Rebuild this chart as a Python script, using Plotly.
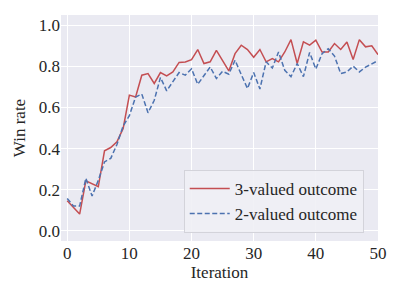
import plotly.graph_objects as go

iterations = list(range(51))

three_valued = [0.146, 0.114, 0.081, 0.243, 0.230, 0.214, 0.389, 0.405, 0.433, 0.498,
                0.660, 0.651, 0.757, 0.765, 0.717, 0.770, 0.754, 0.773, 0.819, 0.821,
                0.833, 0.882, 0.814, 0.822, 0.878, 0.825, 0.778, 0.862, 0.903, 0.882,
                0.844, 0.882, 0.822, 0.838, 0.822, 0.870, 0.930, 0.814, 0.919, 0.903,
                0.928, 0.870, 0.870, 0.911, 0.882, 0.919, 0.833, 0.930, 0.895, 0.900,
                0.857]

two_valued = [0.157, 0.120, 0.120, 0.255, 0.169, 0.245, 0.335, 0.352, 0.420, 0.510,
              0.560, 0.651, 0.665, 0.574, 0.635, 0.746, 0.681, 0.724, 0.770, 0.757,
              0.788, 0.713, 0.757, 0.797, 0.741, 0.776, 0.762, 0.830, 0.760, 0.692,
              0.770, 0.690, 0.822, 0.792, 0.870, 0.781, 0.750, 0.814, 0.750, 0.868,
              0.787, 0.862, 0.886, 0.850, 0.765, 0.773, 0.801, 0.773, 0.796, 0.812,
              0.828]

x_ticks = [0, 10, 20, 30, 40, 50]
y_ticks = [0.0, 0.2, 0.4, 0.6, 0.8, 1.0]

font_family = "Liberation Serif"
text_color = "#262626"

fig = go.Figure()
fig.add_trace(go.Scatter(x=iterations, y=three_valued, mode="lines",
                         name="3-valued outcome",
                         line=dict(color="#C44E52", width=1.5)))
fig.add_trace(go.Scatter(x=iterations, y=two_valued, mode="lines",
                         name="2-valued outcome",
                         line=dict(color="#4C72B0", width=1.5, dash="5px,2.5px")))

fig.update_layout(
    width=394, height=296,
    margin=dict(l=61, r=16, t=15, b=55, autoexpand=False),
    paper_bgcolor="white",
    plot_bgcolor="#EAEAF2",
    font=dict(family=font_family, size=17, color=text_color),
    showlegend=True,
    legend=dict(
        x=0.955, y=0.036, xanchor="right", yanchor="bottom",
        bgcolor="rgba(240,240,245,0.9)",
        bordercolor="#D3D3DA", borderwidth=1,
        font=dict(family=font_family, size=17, color=text_color),
        itemwidth=40,
        tracegroupgap=0,
    ),
)
fig.update_xaxes(
    range=[-1, 50], tickvals=x_ticks, ticktext=[str(v) for v in x_ticks],
    showgrid=True, gridcolor="white", gridwidth=1.2,
    zeroline=False, showline=False, ticks="",
    title=dict(text="Iteration", standoff=2, font=dict(size=17, family=font_family)),
    tickfont=dict(size=17, family=font_family),
    automargin=False,
)
fig.update_yaxes(
    range=[-0.05, 1.05], tickvals=y_ticks, ticktext=[f"{v:.1f}" for v in y_ticks],
    showgrid=True, gridcolor="white", gridwidth=1.2,
    zeroline=False, showline=False, ticks="",
    title=dict(text="Win rate", standoff=8, font=dict(size=17, family=font_family)),
    tickfont=dict(size=17, family=font_family),
    automargin=False,
)

fig.write_html("out.html", config={"displayModeBar": False},
               post_script="document.body.style.margin='0';")
